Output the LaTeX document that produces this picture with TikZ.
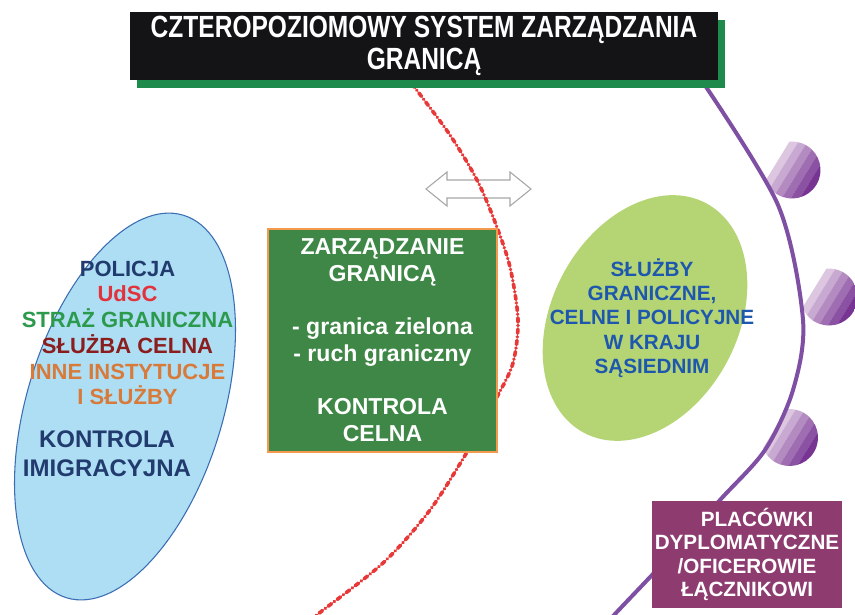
\documentclass[tikz,border=0pt]{standalone}
\usepackage{fontspec}
\setmainfont{Liberation Sans}
\newfontfamily\narrowfont[FakeStretch=0.8]{Liberation Sans}

\definecolor{titleblack}{HTML}{141316}
\definecolor{titlegreen}{HTML}{1E8A4C}
\definecolor{ovalfill}{HTML}{ADDEF4}
\definecolor{ovalline}{HTML}{3B6DB3}
\definecolor{boxgreen}{HTML}{3E8746}
\definecolor{boxorange}{HTML}{F39A4E}
\definecolor{limegreen}{HTML}{B5D574}
\definecolor{placpurple}{HTML}{8E3B70}
\definecolor{linepurple}{HTML}{7E4FA3}
\definecolor{dotlight}{HTML}{DCC6E0}
\definecolor{dotdark}{HTML}{773493}
\definecolor{borderred}{HTML}{E83838}
\definecolor{navy}{HTML}{213B6E}
\definecolor{udscred}{HTML}{E2333D}
\definecolor{sggreen}{HTML}{2C9A4C}
\definecolor{celnared}{HTML}{8A1D1D}
\definecolor{inneorange}{HTML}{D87A3A}
\definecolor{sasiadblue}{HTML}{1E58AE}

\tikzset{
  ovalblue/.style={fill=ovalfill, draw=ovalline, line width=0.8pt},
  ovalgreen/.style={fill=limegreen},
  titlebox/.style={fill=titleblack, text=white, align=center, inner sep=0pt,
    font=\narrowfont\bfseries\fontsize{23}{23.5}\selectfont},
  greenbox/.style={fill=boxgreen, draw=boxorange, line width=1.4pt, text=white,
    align=center, inner sep=0pt, font=\bfseries\fontsize{17.3}{20}\selectfont},
  placbox/.style={fill=placpurple, text=white, align=center, inner sep=0pt,
    font=\bfseries\fontsize{15.5}{17.5}\selectfont},
  borderline/.style={draw=borderred, line width=2.7pt, line cap=round,
    dash pattern=on 3.2pt off 2.6pt on 0.1pt off 2.6pt},
  purpleline/.style={draw=linepurple, line width=3pt},
  arrowbox/.style={draw=gray!70, fill=white, line width=0.8pt}
}

% disc cut by a chord, striped light -> dark
\newcommand{\cutdisc}[2]{%
  \begin{scope}[shift={(#1,#2)}, rotate=-31.5]
    \clip (0,0) circle (28.5);
    \clip (-17,-30) rectangle (30,30);
    \foreach \i in {0,...,5}{
      \pgfmathtruncatemacro\pct{20*\i}
      \fill[dotdark!\pct!dotlight] ({-17+7.7*\i},-30) rectangle ++(7.8,60);
    }
  \end{scope}}

\begin{document}
\begin{tikzpicture}[x=0.75pt, y=0.75pt]
   \useasboundingbox (0,0) rectangle (855,-614);
   \clip (0,0) rectangle (855,-614);
   \fill[white] (0,0) rectangle (855,-614);

   % left oval
   \draw[ovalblue, rotate around={73:(125,-406.5)}] (125,-406.5) ellipse (200 and 98);
   \node[align=center, font=\bfseries\fontsize{16.5}{19.3}\selectfont] (instytucje) at (127.5,-333)
      {\textcolor{navy}{POLICJA}\\ \textcolor{udscred}{UdSC}\\ \textcolor{sggreen}{STRAŻ GRANICZNA}\\
       \textcolor{celnared}{SŁUŻBA CELNA}\\ \textcolor{inneorange}{INNE INSTYTUCJE}\\
       \textcolor{inneorange}{I SŁUŻBY}};
   \node[align=center, text=navy, font=\bfseries\fontsize{18}{21.75}\selectfont] (imigracja) at (107,-454)
      {KONTROLA\\IMIGRACYJNA};

   % right oval and neighbour states
   \fill[ovalgreen, rotate around={62:(645,-318)}] (645,-318) ellipse (130 and 93);
   \node[align=center, text=sasiadblue, font=\bfseries\fontsize{15.5}{18.2}\selectfont] (sasiad) at (652,-318)
      {SŁUŻBY\\GRANICZNE,\\CELNE I POLICYJNE\\W KRAJU\\SĄSIEDNIM};

   % discs and outer line
   \cutdisc{792}{-170}
   \cutdisc{829}{-297}
   \cutdisc{789.5}{-437.5}
   \draw[purpleline] plot[smooth] coordinates {(700,-78) (778,-205) (803,-320)
      (793,-390) (765,-450) (720,-500) (668,-558) (615,-614) (605,-626)};

   % double arrow
   \draw[arrowbox] (426,-189) -- (447,-172) -- (447,-180) -- (510,-180) -- (510,-172)
      -- (531,-189) -- (510,-206) -- (510,-198) -- (447,-198) -- (447,-206) -- cycle;

   % border (red dotted)
   \draw[borderline] plot[smooth] coordinates {(412,-84) (450,-135) (477,-180) (495,-222)
      (510,-267) (518,-320) (513,-363) (497,-397) (470,-447) (430,-510) (383,-563) (318,-614) (305,-625)};

   % middle box
   \node[greenbox, minimum width=171.75pt, minimum height=167.25pt] (zarzadzanie) at (382.5,-340.5)
      {ZARZĄDZANIE\\GRANICĄ\\[20pt]- granica zielona\\- ruch graniczny\\[20pt]KONTROLA\\CELNA};

   % placowki
   \node[placbox, minimum width=142.5pt, minimum height=80.25pt] (placowki) at (747,-554.5)
      {\hspace*{15pt}PLACÓWKI\\DYPLOMATYCZNE\\/OFICEROWIE\\ŁĄCZNIKOWI};

   % title
   \fill[titlegreen] (137,-20) rectangle (725,-88);
   \node[titlebox, minimum width=441pt, minimum height=51pt] (tytul) at (424,-46)
      {CZTEROPOZIOMOWY SYSTEM ZARZĄDZANIA\\GRANICĄ};
\end{tikzpicture}
\end{document}
